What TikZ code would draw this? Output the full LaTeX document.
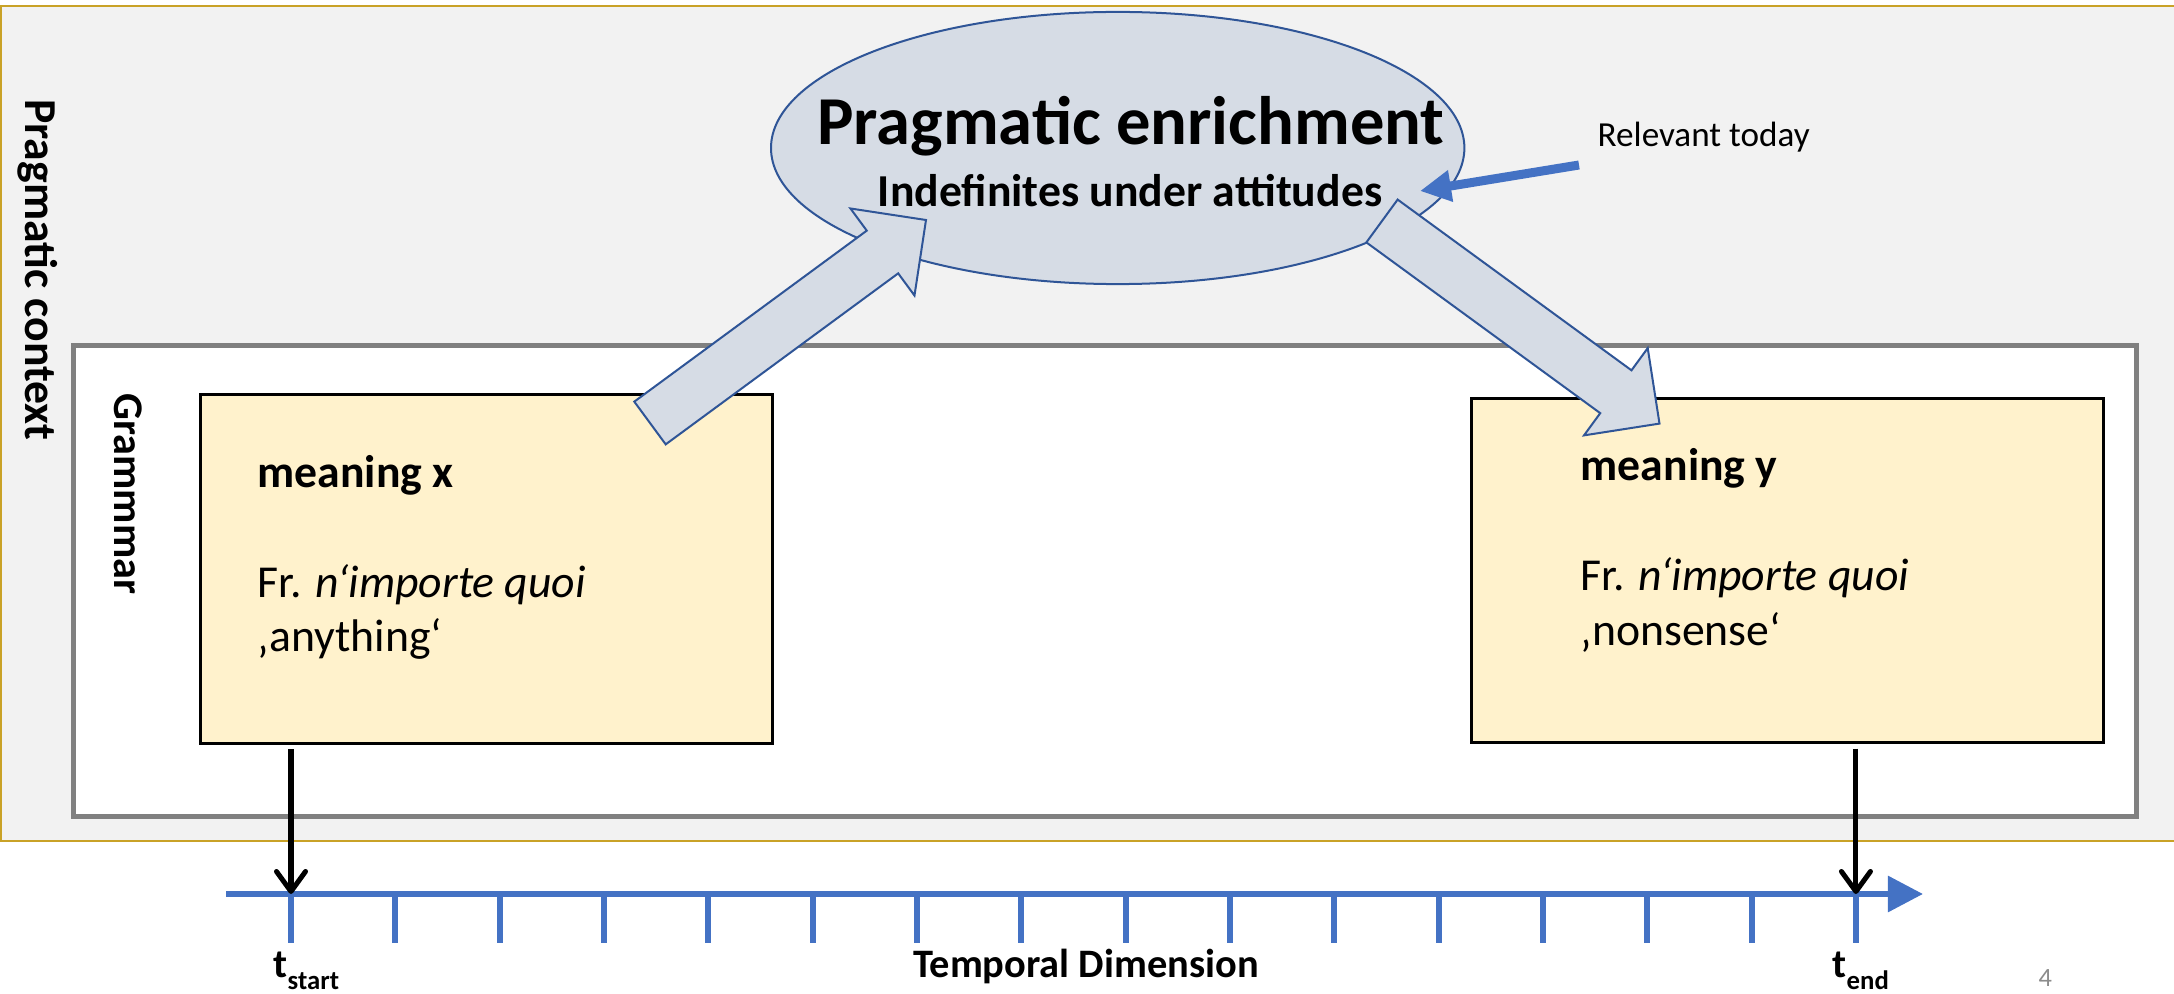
\documentclass[tikz,border=0pt]{standalone}
\usepackage{fontspec}
\setmainfont{Carlito}
\usetikzlibrary{calc,arrows.meta,shapes.geometric}
\definecolor{ctxgray}{HTML}{F2F2F2}
\definecolor{ctxgold}{HTML}{C9A227}
\definecolor{gramgray}{HTML}{808080}
\definecolor{boxyellow}{HTML}{FFF2CC}
\definecolor{enrfill}{HTML}{D6DCE5}
\definecolor{enrline}{HTML}{2F5597}
\definecolor{timeblue}{HTML}{4472C4}
\definecolor{pagegray}{HTML}{8C8C8C}

\newcommand{\fsz}[2]{\fontsize{#1}{#2}\selectfont}
\newcommand{\tsub}[1]{t\raisebox{-0.3em}{\fsz{7.6pt}{9pt}#1}}
% fat block arrow: tail #1, tip #2
\newcommand{\blockarrow}[2]{%
  \coordinate (ba) at ($(#2)!0.54cm!(#1)$);
  \draw[barrow] ($(#1)!0.265cm!90:(#2)$) -- ($(ba)!0.265cm!90:(#2)$)
    -- ($(ba)!0.54cm!90:(#2)$) -- (#2) -- ($(ba)!0.54cm!-90:(#2)$)
    -- ($(ba)!0.265cm!-90:(#2)$) -- ($(#1)!0.265cm!-90:(#2)$) -- cycle;
}

\begin{document}
\begin{tikzpicture}[
  x=0.01cm, y=-0.01cm,
  ctx/.style={fill=ctxgray, draw=ctxgold, line width=0.02cm},
  gram/.style={rectangle, draw=gramgray, fill=white, line width=0.05cm, inner sep=0pt},
  mbox/.style={rectangle, draw=black, fill=boxyellow, line width=0.03cm, inner sep=0pt},
  enr/.style={ellipse, draw=enrline, fill=enrfill, line width=0.02cm, inner sep=0pt},
  barrow/.style={draw=enrline, fill=enrfill, line width=0.02cm, line join=miter},
  vlbl/.style={rotate=-90, inner sep=0pt},
  mtxt/.style={align=left, anchor=base west, inner sep=0pt, font=\fsz{13pt}{15.6pt}},
  blbl/.style={font=\bfseries\fsz{11.5pt}{14pt}, inner sep=0pt, anchor=base west},
  tline/.style={timeblue, line width=0.06cm},
  tarrow/.style={line width=0.05cm, -{Straight Barb[length=0.2cm, width=0.29cm, round]}}
]
\useasboundingbox (0,0) rectangle (2174,994);
% ---------------- frames ----------------------------------------------
\path[ctx] (1,6) rectangle (2190,841);
\node[gram, minimum width=20.61cm, minimum height=4.705cm] (gram) at (1105,580.75) {};
\node[vlbl, font=\bfseries\fsz{13pt}{15pt}] (ctxlbl) at (38,270) {Pragmatic context};
\node[vlbl, font=\bfseries\fsz{12pt}{14pt}] (gramlbl) at (128,494) {Grammmar};
% ---------------- the two meanings --------------------------------------
\node[mbox, minimum width=5.72cm, minimum height=3.485cm] (mx) at (486.5,569.25) {};
\node[mbox, minimum width=6.31cm, minimum height=3.435cm] (my) at (1787.5,570.25) {};
% (anchored on the last line)
\node[mtxt] (mxt) at (257,652)
  {\textbf{meaning x}\\[15.6pt]Fr. \textit{n‘importe quoi}\\‚anything‘};
\node[mtxt] (myt) at (1580,645.5)
  {\textbf{meaning y}\\[15.6pt]Fr. \textit{n‘importe quoi}\\‚nonsense‘};
% ---------------- enrichment ellipse and arrows -------------------------
\node[enr, minimum width=6.93cm, minimum height=2.72cm] (enr) at (1117.7,148) {};
\coordinate (a1t) at (650,423);
\coordinate (a1h) at (926,220);
\coordinate (a2t) at (1382,221);
\coordinate (a2h) at (1659.5,423.6);
\blockarrow{a1t}{a1h}
\blockarrow{a2t}{a2h}
\node[font=\bfseries\fsz{19.5pt}{23pt}, anchor=base, inner sep=0pt] (prag) at (1131,145) {Pragmatic enrichment};
\node[font=\bfseries\fsz{13pt}{15pt}, anchor=base, inner sep=0pt] (indef) at (1130,207) {Indefinites under attitudes};
\node[font=\fsz{10pt}{12pt}, anchor=base west, inner sep=0pt] (relev) at (1597,147) {Relevant today};
\coordinate (reltail) at (1579,165);
\coordinate (reltip) at (1420,191);
\draw[timeblue, line width=0.09cm, -{Triangle[length=0.31cm, width=0.30cm]}] (reltail) -- (reltip);
% ---------------- time line ---------------------------------------------
\coordinate (tl0) at (226,894);
\coordinate (tl1) at (1923,894);
\foreach \i in {1,...,16}
  \coordinate (t\i) at ({291+(\i-1)*104.33},894);
\foreach \i in {1,...,16}
  \draw[tline] (t\i) -- ++(0,49);
\draw[tline, -{Triangle[length=0.35cm, width=0.35cm]}] (tl0) -- (tl1);
\draw[tarrow] ($(mx.south -| t1)+(0,4)$) -- (t1);
\draw[tarrow] ($(my.south -| t16)+(0,5)$) -- (t16);
\node[blbl] (tstart) at (273,977) {\tsub{start}};
\node[blbl] (tend) at (1832,977) {\tsub{end}};
\node[blbl, anchor=base] (tdim) at (1086,977) {Temporal Dimension};
\node[font=\fsz{7.5pt}{9pt}, text=pagegray, anchor=base west, inner sep=0pt] (pg) at (2038,986) {4};
\end{tikzpicture}
\end{document}
